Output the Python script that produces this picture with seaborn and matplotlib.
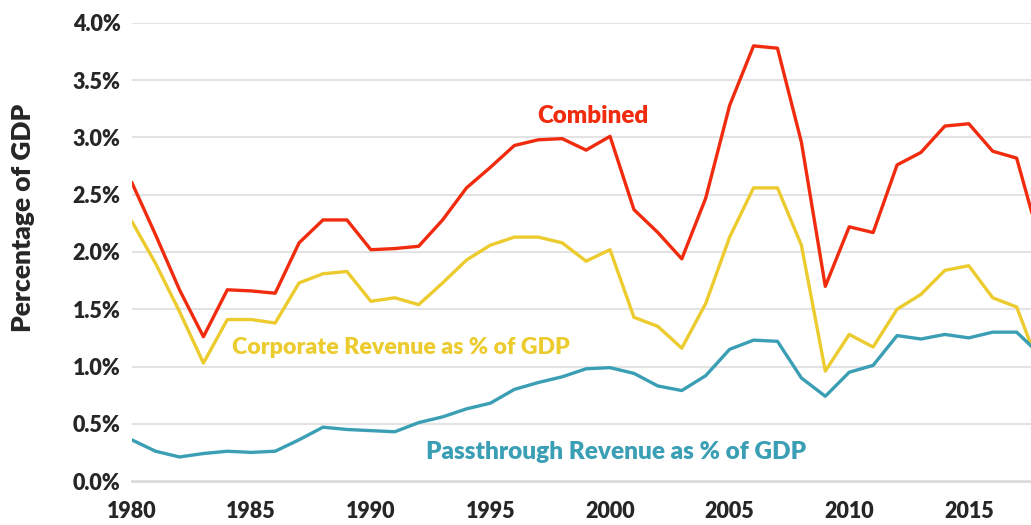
import pandas as pd
import matplotlib.pyplot as plt
import seaborn as sns
from matplotlib.ticker import FuncFormatter

# Values (percent of GDP)
years = list(range(1980, 2019))
combined = [2.61, 2.15, 1.67, 1.26, 1.67, 1.66, 1.64, 2.08, 2.28, 2.28,
            2.02, 2.03, 2.05, 2.28, 2.56, 2.74, 2.93, 2.98, 2.99, 2.89,
            3.01, 2.37, 2.17, 1.94, 2.47, 3.28, 3.80, 3.78, 2.96, 1.70,
            2.22, 2.17, 2.76, 2.87, 3.10, 3.12, 2.88, 2.82, 2.07]
corporate = [2.27, 1.90, 1.48, 1.03, 1.41, 1.41, 1.38, 1.73, 1.81, 1.83,
             1.57, 1.60, 1.54, 1.73, 1.93, 2.06, 2.13, 2.13, 2.08, 1.92,
             2.02, 1.43, 1.35, 1.16, 1.55, 2.13, 2.56, 2.56, 2.06, 0.96,
             1.28, 1.17, 1.50, 1.63, 1.84, 1.88, 1.60, 1.52, 0.97]
passthrough = [0.36, 0.26, 0.21, 0.24, 0.26, 0.25, 0.26, 0.36, 0.47, 0.45,
               0.44, 0.43, 0.51, 0.56, 0.63, 0.68, 0.80, 0.86, 0.91, 0.98,
               0.99, 0.94, 0.83, 0.79, 0.92, 1.15, 1.23, 1.22, 0.90, 0.74,
               0.95, 1.01, 1.27, 1.24, 1.28, 1.25, 1.30, 1.30, 1.10]

RED = "#F02B0E"
YELLOW = "#EBCB2E"
TEAL = "#3A9FB4"
W = "heavy"

df = pd.DataFrame({"year": years, "Combined": combined,
                   "Corporate": corporate, "Passthrough": passthrough})

sns.set_style("white")
plt.rcParams['font.family'] = ['Lato', 'DejaVu Sans']

fig = plt.figure(figsize=(10.31, 5.25), dpi=100)
ax = fig.add_axes([0.1277, 0.0838, 0.8723, 0.8724])

sns.lineplot(data=df, x="year", y="Combined", color=RED, linewidth=2.4, ax=ax)
sns.lineplot(data=df, x="year", y="Corporate", color=YELLOW, linewidth=2.4, ax=ax)
sns.lineplot(data=df, x="year", y="Passthrough", color=TEAL, linewidth=2.4, ax=ax)

ax.set_xlim(1980, 2017.6)
ax.set_ylim(0, 4.0)
ax.set_yticks([0, 0.5, 1.0, 1.5, 2.0, 2.5, 3.0, 3.5, 4.0])
ax.set_xticks(list(range(1980, 2016, 5)))
ax.yaxis.set_major_formatter(FuncFormatter(lambda v, p: f"{v:.1f}%"))
ax.grid(axis="y", color="#e3e3e3", linewidth=1.5)
ax.set_axisbelow(True)

for s in ["top", "right", "left"]:
    ax.spines[s].set_visible(False)
ax.spines["bottom"].set_color("#d9d9d9")
ax.spines["bottom"].set_linewidth(2)
ax.spines["bottom"].set_zorder(0.5)

ax.tick_params(axis="x", direction="inout", length=5, width=1.5, color="#d9d9d9",
               labelsize=15.5, pad=12)
ax.tick_params(axis="y", length=0, labelsize=15.5, pad=8)
for lbl in ax.get_xticklabels() + ax.get_yticklabels():
    lbl.set_fontweight(W)

ax.set_xlabel("")
ax.set_ylabel("Percentage of GDP", fontsize=19, fontweight=W)
ax.yaxis.set_label_coords(-0.108, 0.574)

ax.text(1999.3, 3.19, "Combined", color=RED, fontsize=17.4, fontweight=W,
        ha="center", va="center")
ax.text(1984.2, 1.17, "Corporate Revenue as % of GDP", color=YELLOW, fontsize=16.7,
        fontweight=W, ha="left", va="center")
ax.text(1992.3, 0.25, "Passthrough Revenue as % of GDP", color=TEAL, fontsize=17.6,
        fontweight=W, ha="left", va="center")

fig.savefig("out.png", dpi=100)
